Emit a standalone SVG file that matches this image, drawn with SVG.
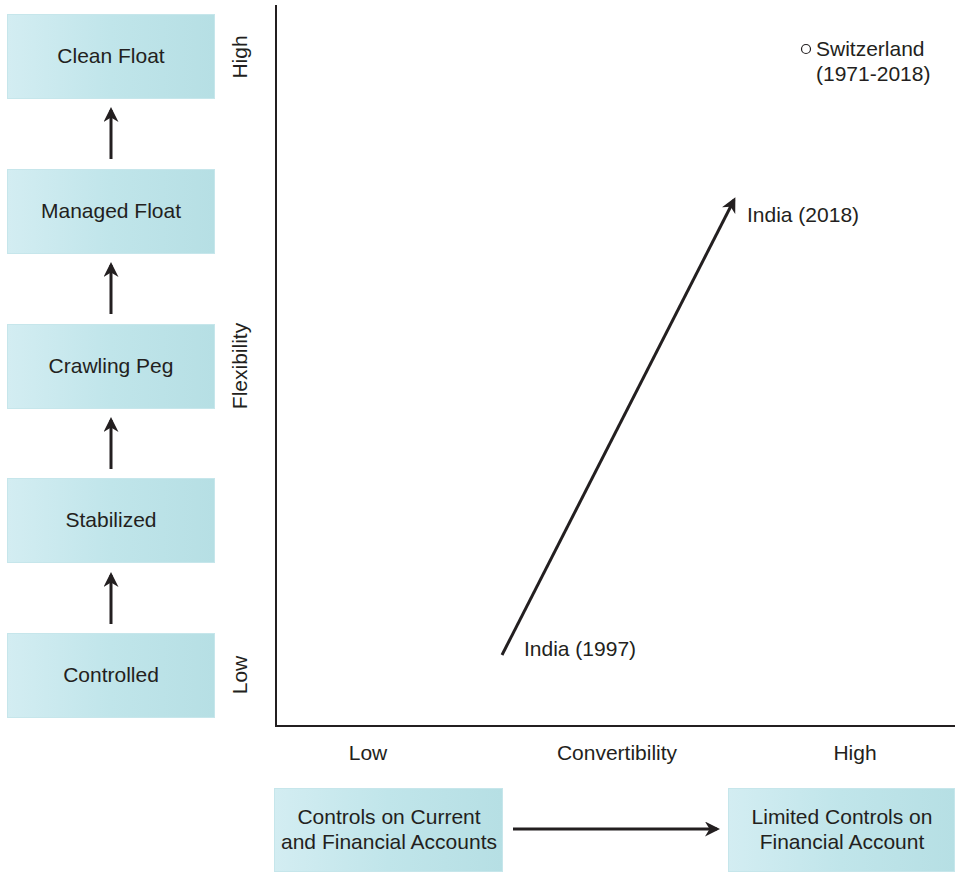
<svg xmlns="http://www.w3.org/2000/svg" width="955" height="873" viewBox="0 0 955 873">
  <style>
    .box { fill: url(#boxFill); stroke: #c6e6eb; stroke-width: 1; }
    .label { font-family: "Liberation Sans", Arial, sans-serif; font-size: 21px; fill: #231f20; }
    .mid { text-anchor: middle; }
    .axis { stroke: #231f20; stroke-width: 2; fill: none; }
    .arrow { stroke: #231f20; stroke-width: 3; fill: none; marker-end: url(#head); }
  </style>
  <defs>
    <linearGradient id="boxFill" x1="0" y1="0" x2="1" y2="0">
      <stop offset="0" stop-color="#d3edf2"/>
      <stop offset="0.5" stop-color="#c0e5ea"/>
      <stop offset="1" stop-color="#b6dfe4"/>
    </linearGradient>
    <marker id="head" viewBox="0 0 10 10" refX="8" refY="5" markerWidth="5" markerHeight="5" orient="auto" markerUnits="strokeWidth">
      <path d="M0,0 L10,5 L0,10 L3,5 Z" fill="#231f20"/>
    </marker>
  </defs>
  <rect width="955" height="873" fill="#ffffff"/>

  <!-- Exchange-rate regime ladder -->
  <g id="clean-float">
    <rect class="box" x="7.5" y="14.5" width="207" height="84"/>
    <text class="label mid" x="111" y="63">Clean Float</text>
  </g>
  <g id="managed-float">
    <rect class="box" x="7.5" y="169.5" width="207" height="84"/>
    <text class="label mid" x="111" y="218">Managed Float</text>
  </g>
  <g id="crawling-peg">
    <rect class="box" x="7.5" y="324.5" width="207" height="84"/>
    <text class="label mid" x="111" y="373">Crawling Peg</text>
  </g>
  <g id="stabilized">
    <rect class="box" x="7.5" y="478.5" width="207" height="84"/>
    <text class="label mid" x="111" y="527">Stabilized</text>
  </g>
  <g id="controlled">
    <rect class="box" x="7.5" y="633.5" width="207" height="84"/>
    <text class="label mid" x="111" y="682">Controlled</text>
  </g>

  <!-- Capital account boxes -->
  <g id="controls-current-financial">
    <rect class="box" x="274.5" y="788.5" width="228" height="83"/>
    <text class="label mid" x="389" y="824">Controls on Current</text>
    <text class="label mid" x="389" y="849">and Financial Accounts</text>
  </g>
  <g id="limited-controls">
    <rect class="box" x="728.5" y="788.5" width="226" height="83"/>
    <text class="label mid" x="842" y="824">Limited Controls on</text>
    <text class="label mid" x="842" y="849">Financial Account</text>
  </g>

  <!-- Axes and axis labels -->
  <g id="axes">
    <path class="axis" d="M276,5 V726 H955"/>
    <text class="label mid" transform="translate(247,57) rotate(-90)">High</text>
    <text class="label mid" transform="translate(247,366) rotate(-90)">Flexibility</text>
    <text class="label mid" transform="translate(247,675) rotate(-90)">Low</text>
    <text class="label mid" x="368" y="760">Low</text>
    <text class="label mid" x="617" y="760">Convertibility</text>
    <text class="label mid" x="855" y="760">High</text>
  </g>

  <!-- Country points -->
  <g id="switzerland">
    <circle cx="806" cy="49" r="4.5" fill="none" stroke="#231f20" stroke-width="1.2"/>
    <text class="label" x="816" y="56">Switzerland</text>
    <text class="label" x="816" y="81">(1971-2018)</text>
  </g>
  <g id="india-1997">
    <text class="label" x="524" y="656">India (1997)</text>
  </g>
  <g id="india-2018">
    <text class="label" x="747" y="222">India (2018)</text>
  </g>

  <!-- Connectors -->
  <g id="connectors">
    <line class="arrow" x1="111" y1="159" x2="111" y2="110"/>
    <line class="arrow" x1="111" y1="314" x2="111" y2="265"/>
    <line class="arrow" x1="111" y1="469" x2="111" y2="420"/>
    <line class="arrow" x1="111" y1="624" x2="111" y2="575"/>
    <line class="arrow" x1="513" y1="829" x2="717" y2="829"/>
    <line class="arrow" x1="502" y1="655" x2="734" y2="200"/>
  </g>
</svg>
